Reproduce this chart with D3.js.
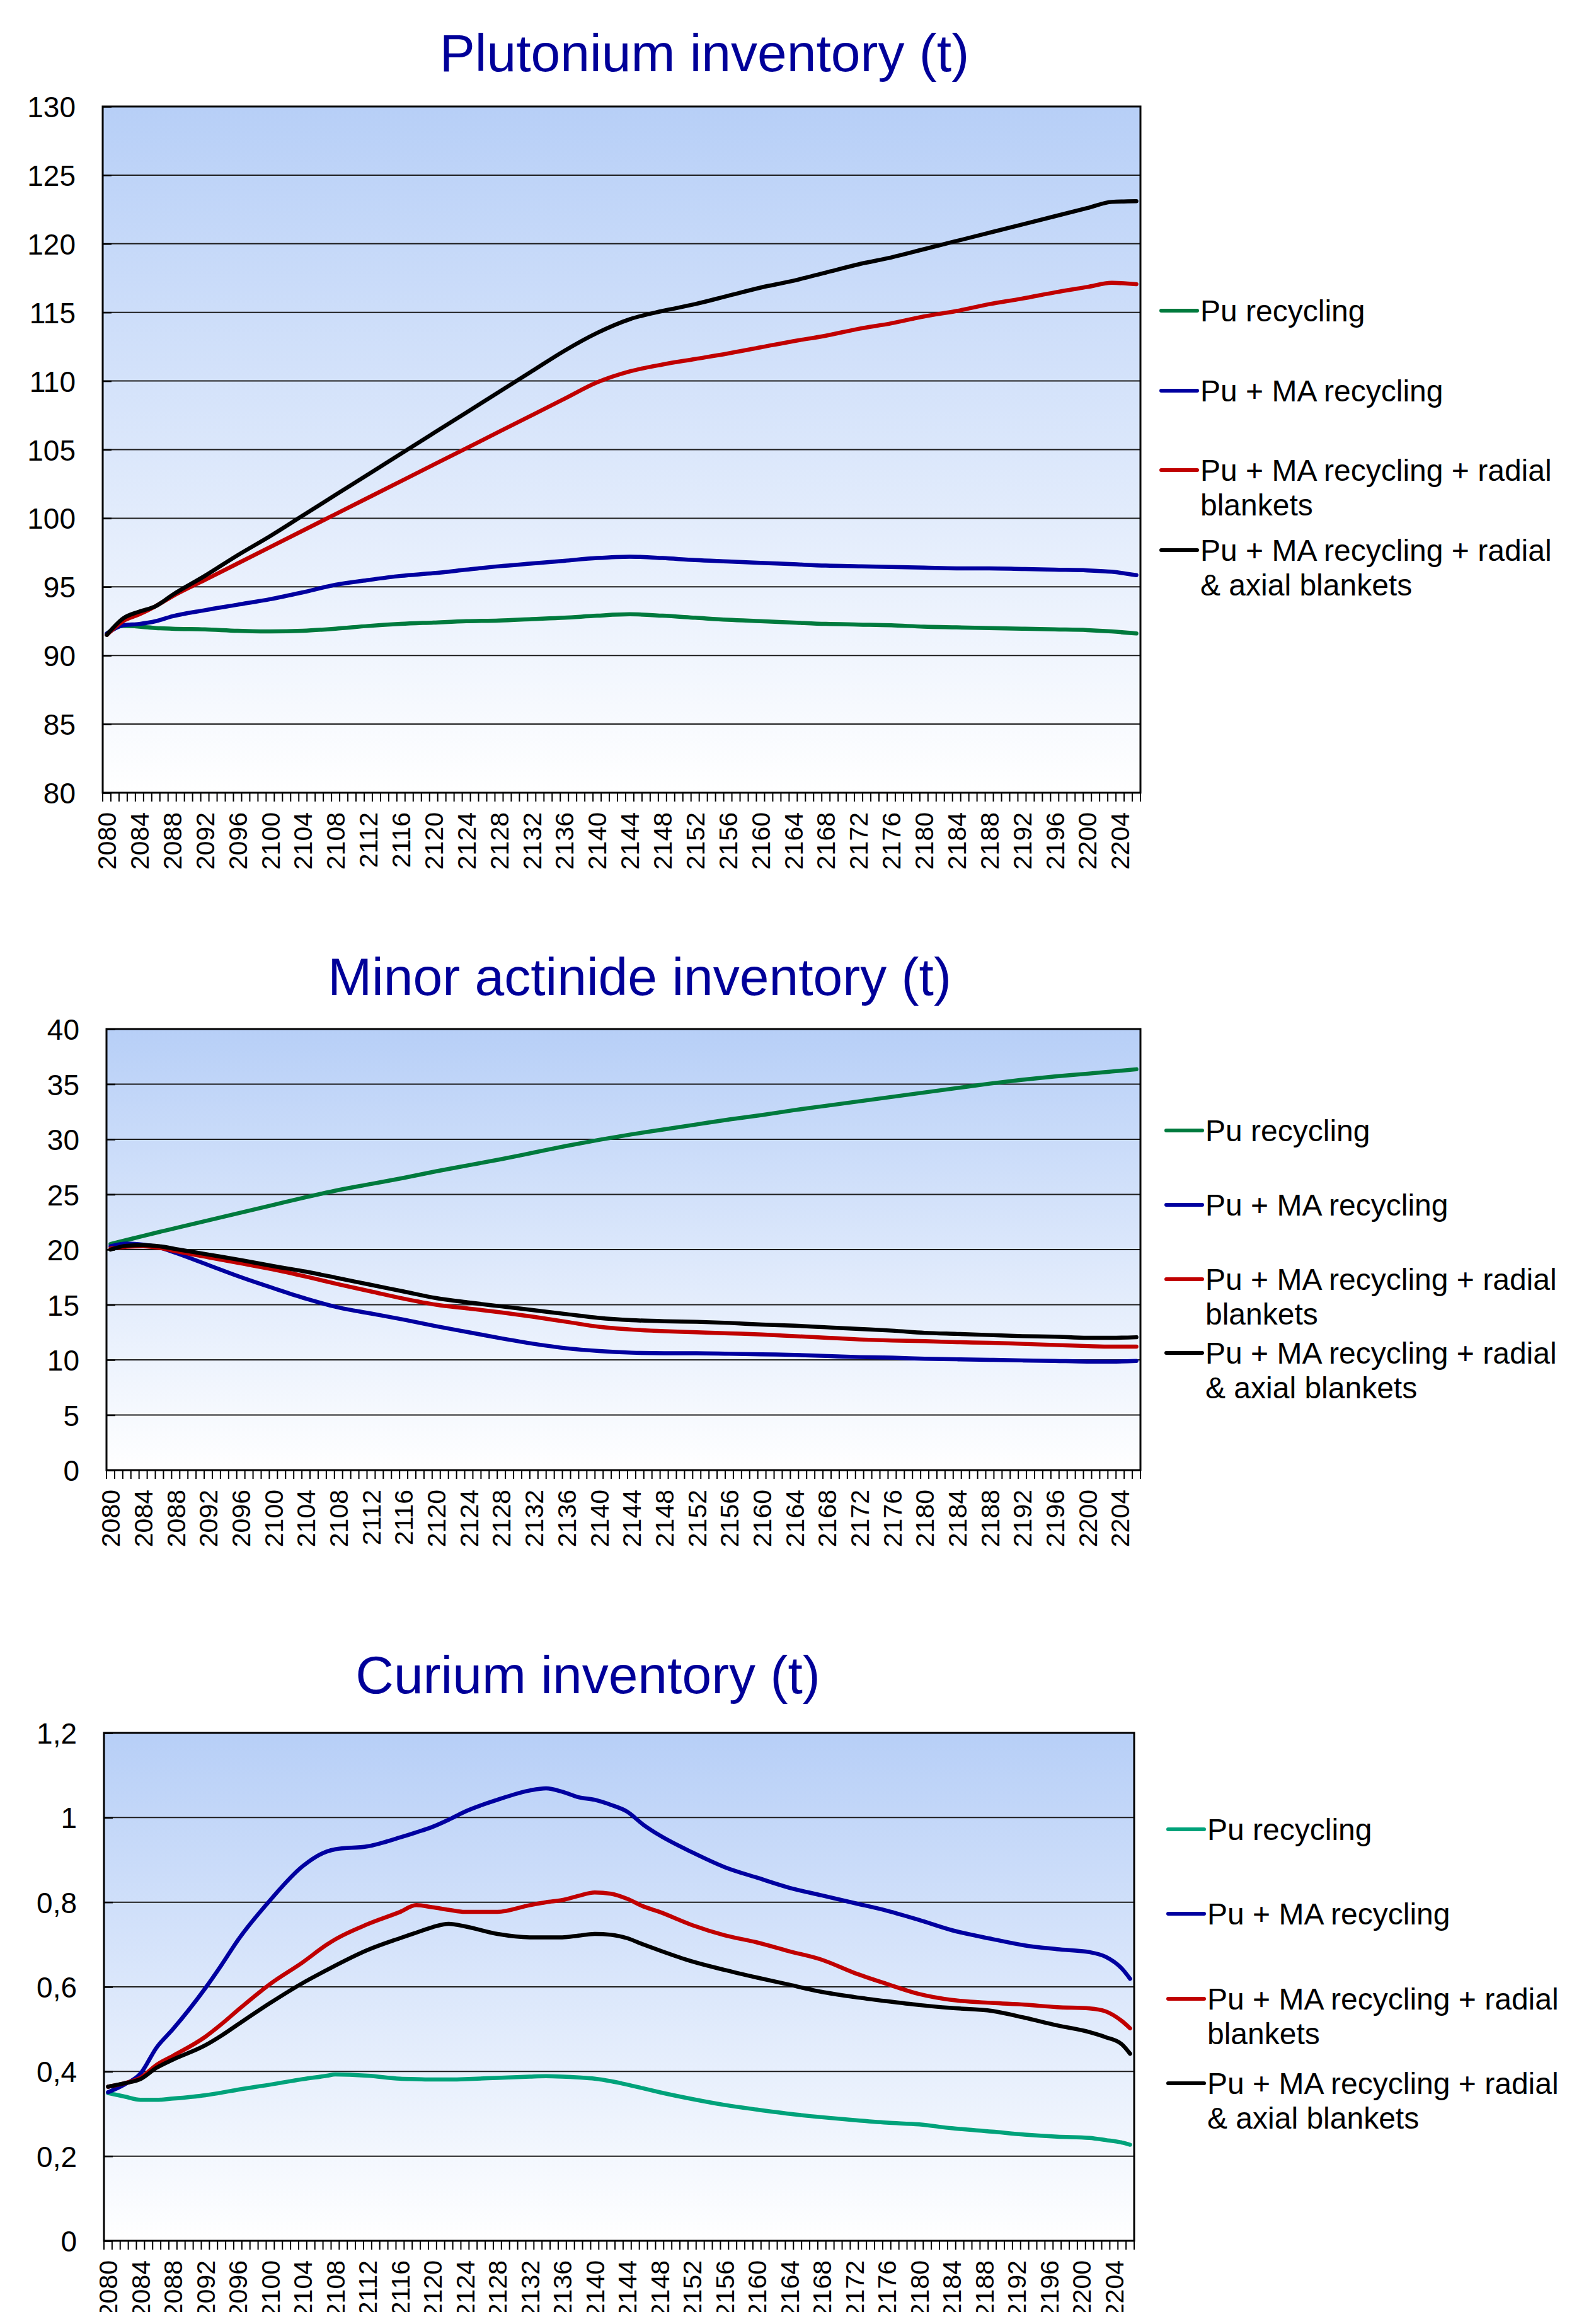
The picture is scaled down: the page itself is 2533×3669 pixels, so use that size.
<!DOCTYPE html>
<html><head><meta charset="utf-8">
<script src="https://cdn.jsdelivr.net/npm/d3@7"></script>
<style>html,body{margin:0;padding:0;background:#fff;} svg{display:block;font-family:"Liberation Sans",Arial,sans-serif;}</style>
</head><body><svg id="c" width="2533" height="3669"></svg>
<script>
// ---------- categories & labels ----------
const firstYear = 2080, lastYear = 2206;
const xTickLabels = ["2080","2084","2088","2092","2096","2100","2104","2108","2112","2116","2120","2124","2128","2132","2136","2140","2144","2148","2152","2156","2160","2164","2168","2172","2176","2180","2184","2188","2192","2196","2200","2204"];
const legendLabels = [["Pu recycling"],["Pu + MA recycling"],["Pu + MA recycling + radial","blankets"],["Pu + MA recycling + radial","& axial blankets"]];
const titles = ["Plutonium inventory (t)","Minor actinide inventory (t)","Curium inventory (t)"];

// ---------- Plutonium ----------
const puYears = [2080,2082,2084,2086,2088,2092,2096,2100,2104,2108,2112,2116,2120,2124,2128,2132,2136,2140,2144,2148,2152,2156,2160,2164,2168,2172,2176,2180,2184,2188,2192,2196,2200,2203,2206];
const puPuRec   = [91.6,92.15,92.1,92.0,91.95,91.9,91.8,91.75,91.8,91.95,92.15,92.3,92.4,92.5,92.55,92.65,92.75,92.9,93.0,92.9,92.75,92.6,92.5,92.4,92.3,92.25,92.2,92.1,92.05,92.0,91.95,91.9,91.85,91.75,91.6];
const puPuMA    = [91.6,92.2,92.3,92.5,92.85,93.3,93.7,94.1,94.6,95.15,95.5,95.8,96.0,96.25,96.5,96.7,96.9,97.1,97.2,97.1,96.95,96.85,96.75,96.65,96.55,96.5,96.45,96.4,96.35,96.35,96.3,96.25,96.2,96.1,95.85];
const puRadial  = [91.5,92.5,93.0,93.6,94.3,95.5,96.7,97.9,99.1,100.3,101.5,102.7,103.9,105.1,106.3,107.5,108.7,109.9,110.7,111.2,111.6,112.0,112.45,112.9,113.3,113.8,114.2,114.7,115.1,115.6,116.0,116.45,116.85,117.15,117.05];
const puAxial   = [91.5,92.7,93.2,93.6,94.4,95.8,97.3,98.7,100.2,101.7,103.2,104.7,106.2,107.7,109.2,110.7,112.2,113.5,114.5,115.1,115.6,116.2,116.8,117.3,117.9,118.5,119.0,119.6,120.2,120.8,121.4,122.0,122.6,123.05,123.1];
const puTicks = [80,85,90,95,100,105,110,115,120,125,130];

// ---------- Minor actinides ----------
const maYears = puYears;
const maPuRec   = [20.5,20.87,21.24,21.6,21.95,22.65,23.35,24.05,24.75,25.4,25.95,26.5,27.1,27.65,28.2,28.8,29.4,29.95,30.45,30.9,31.35,31.8,32.2,32.65,33.05,33.45,33.85,34.25,34.65,35.05,35.4,35.7,35.95,36.15,36.35];
const maPuMA    = [20.3,20.55,20.45,20.2,19.7,18.6,17.5,16.5,15.55,14.75,14.2,13.65,13.05,12.5,11.95,11.45,11.05,10.8,10.65,10.6,10.6,10.55,10.5,10.45,10.35,10.25,10.2,10.1,10.05,10.0,9.95,9.9,9.85,9.85,9.9];
const maRadial  = [20.1,20.25,20.3,20.15,19.85,19.3,18.75,18.2,17.55,16.85,16.2,15.55,15.0,14.65,14.3,13.9,13.45,13.0,12.75,12.6,12.5,12.4,12.3,12.15,12.0,11.85,11.75,11.7,11.6,11.55,11.45,11.35,11.25,11.2,11.2];
const maAxial   = [20.0,20.35,20.4,20.3,20.05,19.55,19.05,18.5,18.0,17.4,16.8,16.2,15.6,15.2,14.85,14.5,14.15,13.8,13.6,13.5,13.45,13.35,13.2,13.1,12.95,12.8,12.65,12.45,12.35,12.25,12.15,12.1,12.0,12.0,12.05];
const maTicks = [0,5,10,15,20,25,30,35,40];

// ---------- Curium ----------
const cmYears = [2080,2082,2084,2086,2088,2092,2094,2096,2100,2104,2107,2108,2112,2116,2118,2120,2122,2124,2128,2132,2134,2136,2138,2140,2142,2144,2146,2148,2152,2156,2160,2164,2168,2172,2176,2180,2184,2189,2193,2197,2201,2203,2205,2206];
const cmPuRec  = [0.349,0.341,0.333,0.333,0.336,0.344,0.350,0.357,0.369,0.382,0.390,0.393,0.390,0.383,0.382,0.381,0.381,0.382,0.385,0.388,0.389,0.388,0.386,0.383,0.377,0.369,0.360,0.351,0.335,0.321,0.310,0.300,0.292,0.285,0.279,0.275,0.266,0.258,0.251,0.246,0.243,0.238,0.232,0.227];
const cmPuMA   = [0.351,0.369,0.395,0.457,0.500,0.597,0.652,0.710,0.805,0.885,0.920,0.925,0.932,0.953,0.965,0.978,0.995,1.014,1.042,1.064,1.069,1.061,1.048,1.042,1.030,1.014,0.983,0.958,0.918,0.883,0.858,0.834,0.816,0.798,0.780,0.758,0.734,0.713,0.698,0.689,0.682,0.671,0.643,0.619];
const cmRadial = [0.364,0.372,0.385,0.416,0.437,0.482,0.512,0.545,0.607,0.658,0.700,0.712,0.748,0.777,0.793,0.788,0.782,0.777,0.777,0.793,0.800,0.805,0.815,0.823,0.820,0.808,0.790,0.777,0.746,0.722,0.705,0.684,0.664,0.633,0.607,0.583,0.569,0.562,0.558,0.552,0.549,0.542,0.519,0.502];
const cmAxial  = [0.364,0.372,0.382,0.409,0.428,0.462,0.485,0.511,0.562,0.609,0.640,0.650,0.687,0.715,0.728,0.741,0.749,0.743,0.725,0.717,0.717,0.717,0.721,0.725,0.723,0.715,0.700,0.686,0.660,0.640,0.622,0.605,0.588,0.576,0.566,0.557,0.550,0.543,0.527,0.509,0.493,0.481,0.464,0.442];
const cmTicks = [0,0.2,0.4,0.6,0.8,1.0,1.2];

// ---------- styles ----------
const colorsPuMa = ["#007a3d","#0000a0","#c00000","#000000"];
const colorsCm   = ["#00a27a","#0000a0","#c00000","#000000"];

const charts = [
  {title:titles[0], years:puYears, series:[puPuRec,puPuMA,puRadial,puAxial], ticks:puTicks, colors:colorsPuMa,
   plot:{x0:163,x1:1810,y0:169,y1:1258}, titlePos:[1118,113], legend:{x:1843, ys:[493,620,746,873]}, fmt:d=>String(d)},
  {title:titles[1], years:maYears, series:[maPuRec,maPuMA,maRadial,maAxial], ticks:maTicks, colors:colorsPuMa,
   plot:{x0:169,x1:1810,y0:1633,y1:2333}, titlePos:[1015,1579], legend:{x:1851, ys:[1794,1912,2030,2147]}, fmt:d=>String(d)},
  {title:titles[2], years:cmYears, series:[cmPuRec,cmPuMA,cmRadial,cmAxial], ticks:cmTicks, colors:colorsCm,
   plot:{x0:165,x1:1800,y0:2750,y1:3556}, titlePos:[933,2687], legend:{x:1854, ys:[2903,3037,3172,3306]}, fmt:d=>String(+d.toFixed(1)).replace('.',',')}
];

const svg = d3.select("#c");
const defs = svg.append("defs");
const grad = defs.append("linearGradient").attr("id","bg").attr("x1",0).attr("y1",0).attr("x2",0).attr("y2",1);
grad.append("stop").attr("offset","0%").attr("stop-color","#b7cff7");
grad.append("stop").attr("offset","100%").attr("stop-color","#ffffff");

const categories = d3.range(firstYear, lastYear+1);

charts.forEach(ch => {
  const p = ch.plot;
  const x = d3.scaleBand().domain(categories).range([p.x0,p.x1]).padding(0);
  const y = d3.scaleLinear().domain([ch.ticks[0], ch.ticks[ch.ticks.length-1]]).range([p.y1,p.y0]);
  const g = svg.append("g");

  g.append("text").attr("x",ch.titlePos[0]).attr("y",ch.titlePos[1]).attr("text-anchor","middle")
    .attr("font-size",84).attr("fill","#000099").text(ch.title);

  g.append("rect").attr("x",p.x0).attr("y",p.y0).attr("width",p.x1-p.x0).attr("height",p.y1-p.y0).attr("fill","url(#bg)");

  g.selectAll(".grid").data(ch.ticks.slice(1,-1)).enter().append("line")
    .attr("x1",p.x0).attr("x2",p.x1).attr("y1",d=>y(d)).attr("y2",d=>y(d))
    .attr("stroke","#1c1c1c").attr("stroke-width",2);

  const yAxis = d3.axisLeft(y).tickValues(ch.ticks).tickFormat(ch.fmt).tickSize(-14).tickPadding(43);
  const ya = g.append("g").attr("transform",`translate(${p.x0},0)`).call(yAxis);
  ya.select(".domain").remove();
  ya.selectAll("line").attr("stroke","#000").attr("stroke-width",2.5);
  ya.selectAll("text").attr("font-size",46).attr("fill","#000").attr("font-family","Liberation Sans, Arial, sans-serif").attr("dy","0.36em");

  const bounds = categories.map(c=>x(c)).concat([p.x1]);
  g.selectAll(".xt").data(bounds).enter().append("line")
    .attr("x1",d=>d).attr("x2",d=>d).attr("y1",p.y1).attr("y2",p.y1+14)
    .attr("stroke","#000").attr("stroke-width",2);
  g.selectAll(".xl").data(xTickLabels).enter().append("text")
    .attr("transform",d=>`translate(${x(+d)+x.bandwidth()/2},${p.y1+31}) rotate(-90)`)
    .attr("text-anchor","end").attr("dy","0.36em").attr("font-size",41).attr("fill","#000").text(d=>d);

  const line = d3.line().x(d=>x(d[0])+x.bandwidth()/2).y(d=>y(d[1])).curve(d3.curveMonotoneX);
  ch.series.forEach((s,i)=>{
    const pts = ch.years.map((yr,j)=>[yr,s[j]]);
    g.append("path").attr("d",line(pts)).attr("fill","none").attr("stroke",ch.colors[i])
      .attr("stroke-width",6.5).attr("stroke-linejoin","round").attr("stroke-linecap","round");
  });

  g.append("rect").attr("x",p.x0).attr("y",p.y0).attr("width",p.x1-p.x0).attr("height",p.y1-p.y0)
    .attr("fill","none").attr("stroke","#000").attr("stroke-width",3);

  legendLabels.forEach((lab,i)=>{
    const ly = ch.legend.ys[i];
    g.append("line").attr("x1",ch.legend.x).attr("x2",ch.legend.x+57).attr("y1",ly).attr("y2",ly)
      .attr("stroke",ch.colors[i]).attr("stroke-width",6).attr("stroke-linecap","round");
    const t = g.append("text").attr("x",ch.legend.x+62).attr("y",ly+17).attr("font-size",48).attr("fill","#000");
    lab.forEach((l,k)=>{ t.append("tspan").attr("x",ch.legend.x+62).attr("dy",k===0?0:55).text(l); });
  });
});
</script></body></html>
